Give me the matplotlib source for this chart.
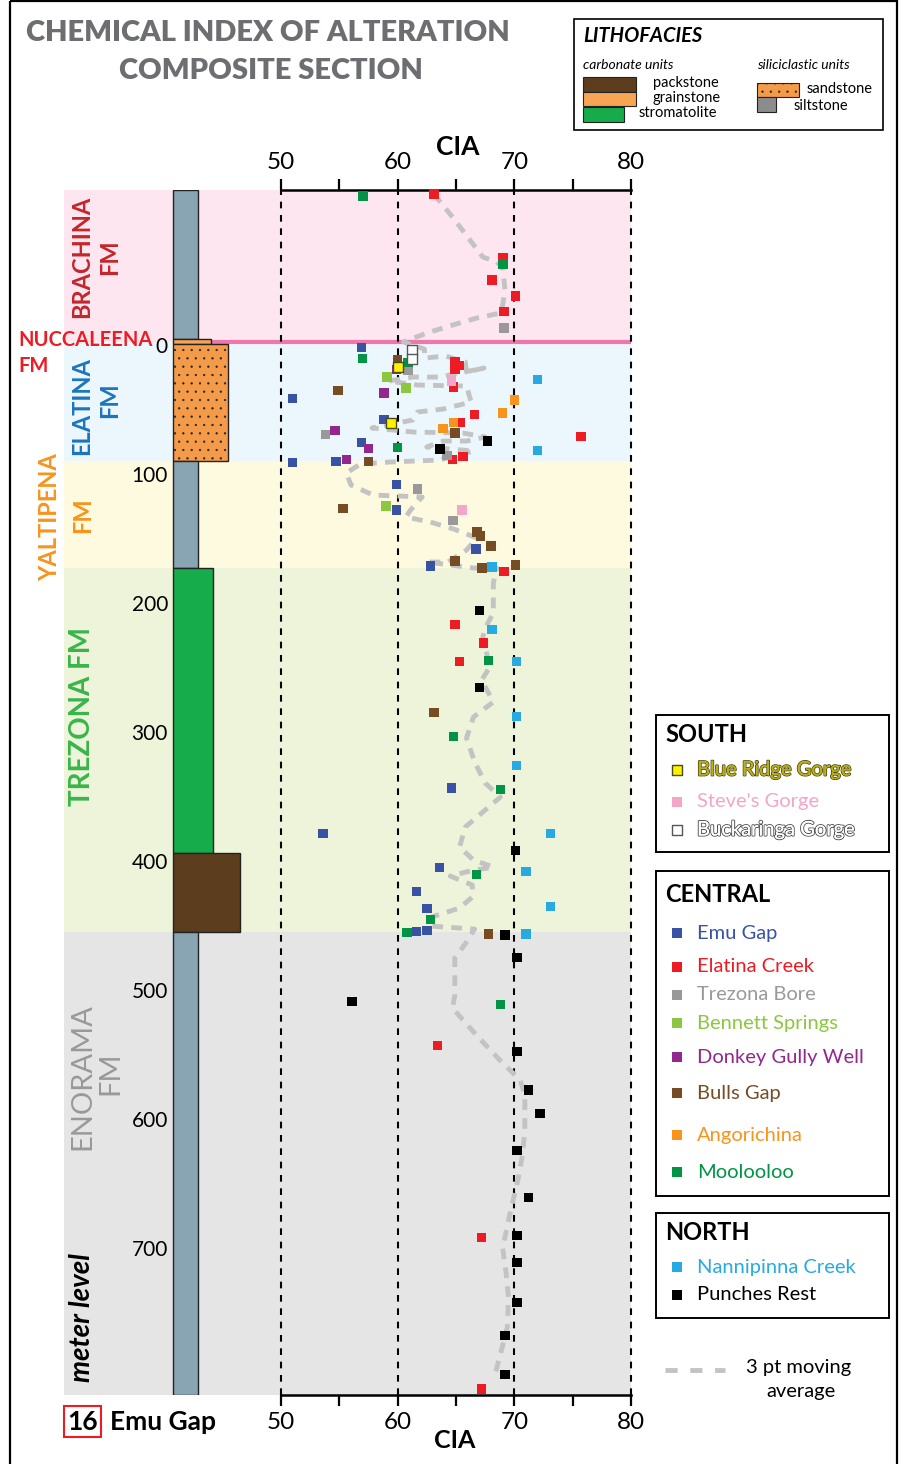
import numpy as np
import matplotlib.pyplot as plt
from matplotlib.patches import Rectangle
from matplotlib import font_manager
import matplotlib.patheffects as pe

installed = {f.name for f in font_manager.fontManager.ttflist}
SANS = 'Lato' if 'Lato' in installed else 'DejaVu Sans'
plt.rcParams['font.family'] = SANS

# ---------------- data (CIA value, meter level) ----------------
# SOUTH
blue_ridge_cia = [60.05, 59.4]
blue_ridge_m = [18.1, 61.5]
steves_cia = [64.6, 65.5]
steves_m = [28.7, 128.9]
buckaringa_cia = [61.2, 61.2]
buckaringa_m = [4.7, 11.6]
# CENTRAL
emu_cia = [56.9, 51.0, 58.85, 56.9, 51.0, 54.7, 59.9, 59.9, 66.7, 62.8,
           64.6, 53.6, 63.6, 61.6, 62.5, 61.6, 62.5]
emu_m = [2.6, 42.1, 58.4, 76.2, 91.7, 91.0, 108.8, 128.9, 158.8, 172.0,
         344.4, 379.3, 405.7, 424.3, 437.5, 455.3, 454.5]
elatina_cia = [63.1, 69.05, 68.1, 70.1, 69.1, 64.9, 65.3, 64.9, 64.8, 66.6,
               75.7, 65.4, 64.7, 65.6, 69.1, 64.9, 67.35, 65.3, 63.4, 67.2, 67.2]
elatina_m = [-116.3, -67.2, -49.4, -37.0, -25.3, 13.5, 16.5, 19.5, 33.1, 54.5,
             71.6, 60.7, 89.4, 87.1, 176.2, 217.3, 232.0, 246.0, 543.7, 692.5, 809.9]
trezona_cia = [69.1, 60.9, 53.8, 64.25, 61.7, 64.75]
trezona_m = [-12.2, 20.2, 70.0, 86.3, 112.6, 136.7]
bennett_cia = [59.1, 60.7, 59.0]
bennett_m = [25.4, 34.3, 125.8]
donkey_cia = [59.9, 58.85, 54.65, 57.5, 55.6]
donkey_m = [19.6, 38.2, 66.9, 80.9, 89.4]
bulls_cia = [60.0, 54.9, 64.9, 57.5, 55.3, 66.8, 67.1, 68.0, 64.9, 67.25,
             70.1, 63.1, 67.8]
bulls_m = [12.4, 35.9, 69.2, 91.0, 127.4, 145.6, 148.7, 156.4, 168.1, 173.5,
           171.1, 285.5, 457.3]
angorichina_cia = [70.0, 69.0, 64.8, 63.9]
angorichina_m = [43.3, 53.7, 60.7, 65.4]
moolooloo_cia = [57.05, 69.05, 57.0, 60.9, 60.0, 67.8, 64.8, 68.8, 66.75,
                 62.8, 60.8, 68.8]
moolooloo_m = [-114.7, -61.8, 11.1, 14.2, 80.1, 245.3, 304.1, 345.2, 411.1,
               446.0, 456.1, 511.9]
# NORTH
nannipinna_cia = [72.0, 72.0, 68.1, 68.1, 70.2, 70.2, 70.2, 73.1, 71.0, 73.1, 71.0]
nannipinna_m = [27.4, 82.4, 172.7, 221.2, 246.0, 288.6, 326.6, 379.3, 408.8,
                436.0, 457.3]
punches_cia = [67.7, 63.65, 67.0, 67.0, 70.1, 69.2, 70.25, 56.1, 70.25, 71.2,
               72.2, 70.25, 71.2, 70.25, 70.25, 70.25, 69.2, 69.2]
punches_m = [75.4, 81.4, 206.5, 266.3, 392.5, 458.1, 475.5, 509.6, 548.3, 578.5,
             596.4, 625.1, 661.5, 691.0, 712.0, 743.0, 768.5, 798.8]

# 3 pt moving average
ma_cia = [63.1, 64.7, 66.2, 67.3, 68.5, 69.0, 69.2, 69.0, 68.8, 66.8, 64.7, 62.5, 60.5,
          62.3, 62.3, 64.1, 65.8, 65.9, 67.4, 63.6, 61.3, 59.2, 61.7, 65.9, 66.3,
          63.9, 61.7, 61.3, 57.8, 61.3, 65.6, 67.5, 65.9, 63.9, 62.5, 64.5, 66.5,
          63.6, 59.3, 56.8, 55.6, 56.0, 57.9, 60.0, 62.1, 61.1, 60.7, 62.8, 64.8,
          66.8, 65.9, 64.3, 62.5, 66.5, 68.5, 68.2,
          68.2, 67.5, 67.3, 67.9, 67.2, 68.2, 66.5, 65.9, 66.6, 67.5, 68.8, 67.3,
          65.8, 65.3, 66.5, 68.2, 66.2, 64.5, 66.4, 66.4, 65.3, 62.9, 62.8, 66.6,
          65.9, 64.9, 64.9, 64.7, 66.2, 67.7, 69.0, 70.5, 70.9, 70.9, 70.7, 70.3,
          69.6, 69.0, 69.3, 69.5, 69.4, 68.9, 68.4]
ma_m = [-116.3, -98.4, -80.6, -67.4, -63.6, -58.9, -41.9, -30.2, -24.0, -20.2, -14.7, -8.5, -1.6,
        3.9, 10.9, 9.3, 14.0, 21.7, 18.6, 25.6, 25.6, 28.7, 31.8, 32.6, 45.0,
        50.4, 52.7, 58.9, 65.1, 68.2, 69.0, 72.1, 75.2, 75.2, 79.8, 81.4, 82.9,
        89.9, 91.5, 93.0, 100.0, 109.3, 117.1, 117.8, 118.6, 128.7, 134.1, 138.0, 143.4,
        150.4, 159.7, 169.0, 169.0, 173.6, 173.6, 185.3,
        208.5, 220.2, 227.1, 250.4, 260.5, 277.5, 289.1, 305.4, 324.0, 340.3, 351.2, 362.8,
        374.4, 389.9, 400.0, 405.4, 408.5, 412.4, 419.4, 428.7, 437.2, 444.2, 451.2, 453.5,
        463.6, 476.0, 504.7, 514.7, 530.2, 545.0, 557.4, 570.5, 582.2, 609.3, 628.7, 648.1,
        675.2, 700.8, 720.2, 739.5, 762.0, 779.8, 796.9]

# formations (meter level of top and base)
form_top = [-119.4, -1.9, 90.7, 173.6, 455.8]
form_base = [-1.9, 90.7, 173.6, 455.8, 814.7]
form_bg = ['#fde6ef', '#ecf7fd', '#fefadf', '#eef4da', '#e5e5e5']
nuccaleena_m = -1.9

# lithology of the composite column
litho_top = [-119.4, -3.9, 0.0, 90.7, 173.6, 394.6, 455.8]
litho_base = [-3.9, 0.0, 90.7, 173.6, 394.6, 455.8, 814.7]
litho_type = ['siltstone', 'grainstone', 'sandstone', 'siltstone',
              'stromatolite', 'packstone', 'siltstone']

depth_ticks = [0, 100, 200, 300, 400, 500, 600, 700]
cia_ticks = [50, 55, 60, 65, 70, 75, 80]

# ---------------- styles ----------------
litho_color = {'siltstone': '#89a4b3', 'grainstone': '#f7a455', 'sandstone': '#f49b4a',
               'stromatolite': '#16ac4c', 'packstone': '#5c3d1e'}
litho_width = {'siltstone': 25, 'grainstone': 38, 'sandstone': 55,
               'stromatolite': 40, 'packstone': 67}

sites = [
    ('Emu Gap', emu_cia, emu_m, '#3953a4', 'none'),
    ('Elatina Creek', elatina_cia, elatina_m, '#ed1c24', 'none'),
    ('Trezona Bore', trezona_cia, trezona_m, '#999999', 'none'),
    ('Bennett Springs', bennett_cia, bennett_m, '#8dc63f', 'none'),
    ('Donkey Gully Well', donkey_cia, donkey_m, '#92278f', 'none'),
    ('Bulls Gap', bulls_cia, bulls_m, '#754c24', 'none'),
    ('Angorichina', angorichina_cia, angorichina_m, '#f7941d', 'none'),
    ('Moolooloo', moolooloo_cia, moolooloo_m, '#009444', 'none'),
    ('Nannipinna Creek', nannipinna_cia, nannipinna_m, '#27aae1', 'none'),
    ('Punches Rest', punches_cia, punches_m, '#000000', 'none'),
    ("Steve's Gorge", steves_cia, steves_m, '#f4a6c8', 'none'),
    ('Blue Ridge Gorge', blue_ridge_cia, blue_ridge_m, '#fff200', '#4a4a1a'),
    ('Buckaringa Gorge', buckaringa_cia, buckaringa_m, '#ffffff', '#555555'),
]

W, H = 901, 1464
fig = plt.figure(figsize=(W / 100, H / 100), dpi=100)
top_px, bot_px = 190, 1395


def fig_rect(x0, x1):
    return [x0 / W, 1 - bot_px / H, (x1 - x0) / W, (bot_px - top_px) / H]


ax_col = fig.add_axes(fig_rect(64, 281))
ax = fig.add_axes(fig_rect(281, 631))

for a in (ax, ax_col):
    a.set_ylim(form_base[-1], form_top[0])
    for t, b, c in zip(form_top, form_base, form_bg):
        a.axhspan(t, b, color=c, lw=0, zorder=0)

# strat column
plt.rcParams['hatch.linewidth'] = 0.4
ax_col.set_xlim(64, 281)
ax_col.axis('off')
for t, b, lt in zip(litho_top, litho_base, litho_type):
    r = Rectangle((173, t), litho_width[lt], b - t, facecolor=litho_color[lt],
                  edgecolor='#222222', lw=1.0, zorder=2,
                  hatch='..' if lt == 'sandstone' else None)
    ax_col.add_patch(r)
ax_col.axhline(nuccaleena_m, xmin=(211 - 64) / 217, xmax=1, color='#ef77aa', lw=3, zorder=1)
for d in depth_ticks:
    ax_col.text(168, d + 2, str(d), ha='right', va='center', fontsize=15, zorder=3)

# CIA panel
ax.set_xlim(50, 80)
ax.axhline(nuccaleena_m, color='#ef77aa', lw=3, zorder=1)
for x in [50, 60, 70, 80]:
    ax.axvline(x, color='black', lw=1.5, dashes=(3.2, 3.2), zorder=1.5, clip_on=False)
ax.plot(ma_cia, ma_m, color='#c3c3c3', lw=3.5, dashes=(2.2, 1.7),
        dash_capstyle='butt', zorder=2)
for name, xs, ys, c, ec in sites:
    ax.scatter(xs, ys, marker='s', s=48, c=c, edgecolors=ec,
               linewidths=1.0 if ec != 'none' else 0, zorder=4, clip_on=False)

ax.set_xticks(cia_ticks)
ax.set_xticklabels([str(v) if v % 10 == 0 else '' for v in cia_ticks])
ax.set_yticks([])
ax.tick_params(axis='x', top=True, bottom=True, labeltop=True, labelbottom=True,
               direction='out', length=8, width=1.6, labelsize=17.5, pad=4)
for s in ['left', 'right']:
    ax.spines[s].set_visible(False)
for s in ['top', 'bottom']:
    ax.spines[s].set_linewidth(1.8)

# ---------------- overlay (labels, legends, frame) ----------------
ov = fig.add_axes([0, 0, 1, 1], zorder=10)
ov.set_xlim(0, W)
ov.set_ylim(H, 0)
ov.axis('off')
ov.patch.set_alpha(0)

ov.add_patch(Rectangle((10, 1), 887, H + 10, fill=False, ec='black', lw=1.6, clip_on=False))

ov.text(268, 33, 'CHEMICAL INDEX OF ALTERATION', ha='center', va='center',
        fontsize=21, fontweight='heavy', color='#6d6e71')
ov.text(271, 71, 'COMPOSITE SECTION', ha='center', va='center',
        fontsize=21, fontweight='heavy', color='#6d6e71')
ov.text(458, 147, 'CIA', ha='center', va='center', fontsize=19, fontweight='bold')
ov.text(455, 1440, 'CIA', ha='center', va='center', fontsize=18, fontweight='bold')

# formation labels
form_labels = [
    ('BRACHINA', 82, 257, '#c1272d', 'bold', 17), ('FM', 110, 257, '#c1272d', 'bold', 17),
    ('ELATINA', 82, 406, '#1c75bc', 'bold', 17), ('FM', 110, 400, '#1c75bc', 'bold', 17),
    ('YALTIPENA', 50, 517, '#f7941d', 'bold', 17), ('FM', 83, 515, '#f7941d', 'bold', 17),
    ('TREZONA FM', 82, 716, '#39b54a', 'bold', 20),
    ('ENORAMA', 82, 1077, '#999999', 'normal', 21), ('FM', 110, 1073, '#999999', 'normal', 21),
]
for txt, x, y, c, w, fs in form_labels:
    ov.text(x, y, txt, rotation=90, ha='center', va='center', color=c,
            fontsize=fs, fontweight=w)
ov.text(82, 1318, 'meter level', rotation=90, ha='center', va='center',
        fontsize=20, fontweight='bold', style='italic')
ov.text(18, 340, 'NUCCALEENA', ha='left', va='center', color='#ed1c24',
        fontsize=14.5, fontweight='bold')
ov.text(18, 366, 'FM', ha='left', va='center', color='#ed1c24',
        fontsize=14.5, fontweight='bold')

ov.add_patch(Rectangle((64, 1406), 37, 31, fill=False, ec='#ed1c24', lw=1.5))
ov.text(82.5, 1422, '16', ha='center', va='center', fontsize=19, fontweight='bold')
ov.text(110, 1422, 'Emu Gap', ha='left', va='center', fontsize=19, fontweight='bold')

# lithofacies legend
ov.add_patch(Rectangle((574, 19), 309, 111, fc='white', ec='black', lw=1.2))
ov.text(583, 36, 'LITHOFACIES', ha='left', va='center', fontsize=14.5,
        fontweight='bold', style='italic')
ov.text(583, 65, 'carbonate units', ha='left', va='center', fontsize=10, style='italic')
ov.text(757, 65, 'siliciclastic units', ha='left', va='center', fontsize=10, style='italic')
ov.add_patch(Rectangle((583, 77), 53, 15, fc=litho_color['packstone'], ec='#222', lw=0.8))
ov.add_patch(Rectangle((583, 92), 53, 14, fc=litho_color['grainstone'], ec='#222', lw=0.8))
ov.add_patch(Rectangle((583, 107), 41, 15, fc=litho_color['stromatolite'], ec='#222', lw=0.8))
ov.text(686, 83, 'packstone', ha='center', va='center', fontsize=10.5)
ov.text(687, 98, 'grainstone', ha='center', va='center', fontsize=10.5)
ov.text(678, 113, 'stromatolite', ha='center', va='center', fontsize=10.5)
ov.add_patch(Rectangle((757, 83), 42, 14, fc=litho_color['sandstone'], ec='#222',
                       lw=0.8, hatch='..'))
ov.add_patch(Rectangle((757, 97), 19, 15, fc='#8c8c8c', ec='#222', lw=0.8))
ov.text(840, 89, 'sandstone', ha='center', va='center', fontsize=10.5)
ov.text(821, 106, 'siltstone', ha='center', va='center', fontsize=10.5)

# locality legends
site_style = {n: (c, ec) for n, _, _, c, ec in sites}
text_fx = {
    'Blue Ridge Gorge': ('#b8b01c', [pe.withStroke(linewidth=1.3, foreground='#4e4a14'), pe.Normal()]),
    'Buckaringa Gorge': ('#ffffff', [pe.withStroke(linewidth=1.5, foreground='#555555'), pe.Normal()]),
}
groups = [
    ('SOUTH', 715, 137, 735, ['Blue Ridge Gorge', "Steve's Gorge", 'Buckaringa Gorge'],
     [770, 802, 830]),
    ('CENTRAL', 871, 325, 895, ['Emu Gap', 'Elatina Creek', 'Trezona Bore', 'Bennett Springs',
                                'Donkey Gully Well', 'Bulls Gap', 'Angorichina', 'Moolooloo'],
     [933, 967, 995, 1023, 1057, 1093, 1135, 1172]),
    ('NORTH', 1213, 105, 1233, ['Nannipinna Creek', 'Punches Rest'], [1267, 1295]),
]
for title, y0, h, ty, names, ys in groups:
    ov.add_patch(Rectangle((656, y0), 233, h, fc='white', ec='black', lw=1.4))
    ov.text(665, ty, title, ha='left', va='center', fontsize=17, fontweight='bold')
    for n, y in zip(names, ys):
        c, ec = site_style[n]
        ov.scatter([677], [y], marker='s', s=55, c=c, edgecolors=ec,
                   linewidths=1.0 if ec != 'none' else 0)
        tc, fx = text_fx.get(n, (c if n != 'Punches Rest' else 'black', None))
        t = ov.text(697, y, n, ha='left', va='center', fontsize=14.5, color=tc)
        if fx:
            t.set_path_effects(fx)

ov.plot([665, 725], [1370, 1370], color='#c3c3c3', lw=3.5, dashes=(2.5, 2.6),
        dash_capstyle='butt')
ov.text(799, 1368, '3 pt moving', ha='center', va='center', fontsize=14.5)
ov.text(801, 1391, 'average', ha='center', va='center', fontsize=14.5)

fig.savefig('out.png', dpi=100)
